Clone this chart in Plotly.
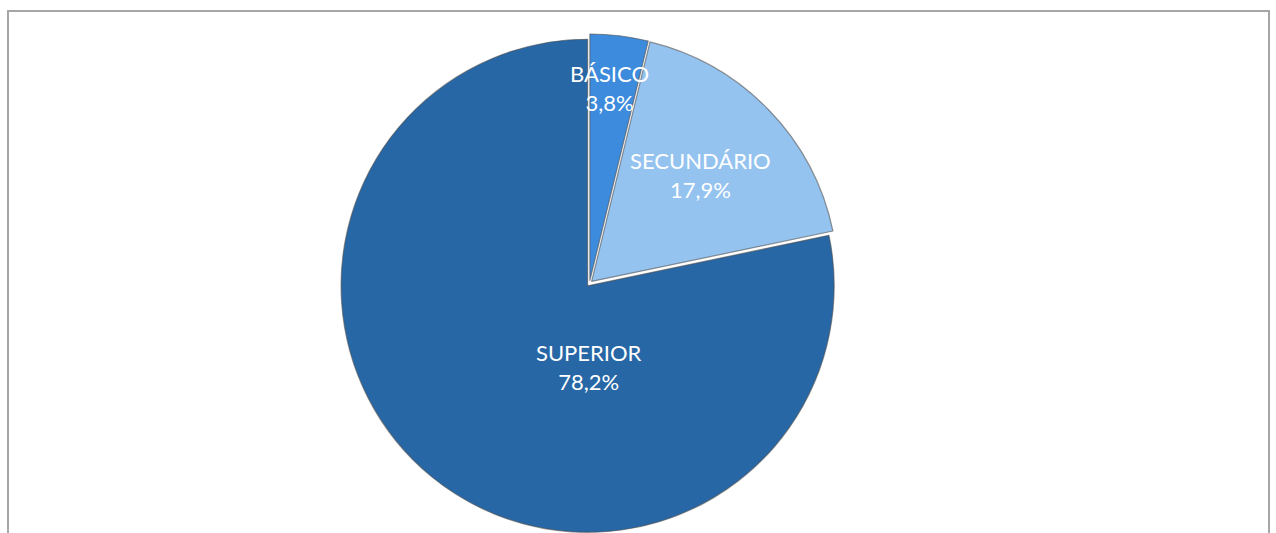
import plotly.graph_objects as go

labels = ["BÁSICO", "SECUNDÁRIO", "SUPERIOR"]
values = [3.8, 17.9, 78.2]
colors = ["#3d8bdc", "#95c3f0", "#2767a5"]

W, H = 1276, 533
# label anchor positions (px from top-left of the figure) for each slice label
label_px = [(609, 88), (701, 175), (589, 367)]

fig = go.Figure()
fig.add_trace(go.Pie(
    labels=labels, values=values, sort=False, direction="clockwise", rotation=0,
    marker=dict(colors=colors, line=dict(color="rgba(80,80,80,0.6)", width=1.2)),
    pull=[0.012, 0.012, 0.012],
    textinfo="none", hoverinfo="label+percent", showlegend=False,
    domain=dict(x=[340 / W, 839 / W], y=[0, 499 / H]),
))

for lab, val, (px, py) in zip(labels, values, label_px):
    fig.add_annotation(
        x=px / W, y=1 - py / H, xref="paper", yref="paper",
        text=f"{lab}<br>{val:.1f}%".replace(".", ","),
        showarrow=False, xanchor="center", yanchor="middle", align="center",
        font=dict(family="Lato", size=22, color="white"),
    )

# chart frame
fig.add_shape(type="rect", xref="paper", yref="paper",
              x0=8 / W, x1=1269 / W, y0=-0.05, y1=1 - 11 / H,
              line=dict(color="#a6a6a6", width=2), layer="below")

fig.update_layout(
    width=W, height=H, margin=dict(l=0, r=0, t=0, b=0),
    paper_bgcolor="white", plot_bgcolor="white",
)
fig.write_html("out.html", config={"displayModeBar": False},
               post_script="document.body.style.margin='0';document.body.style.overflow='hidden';")
